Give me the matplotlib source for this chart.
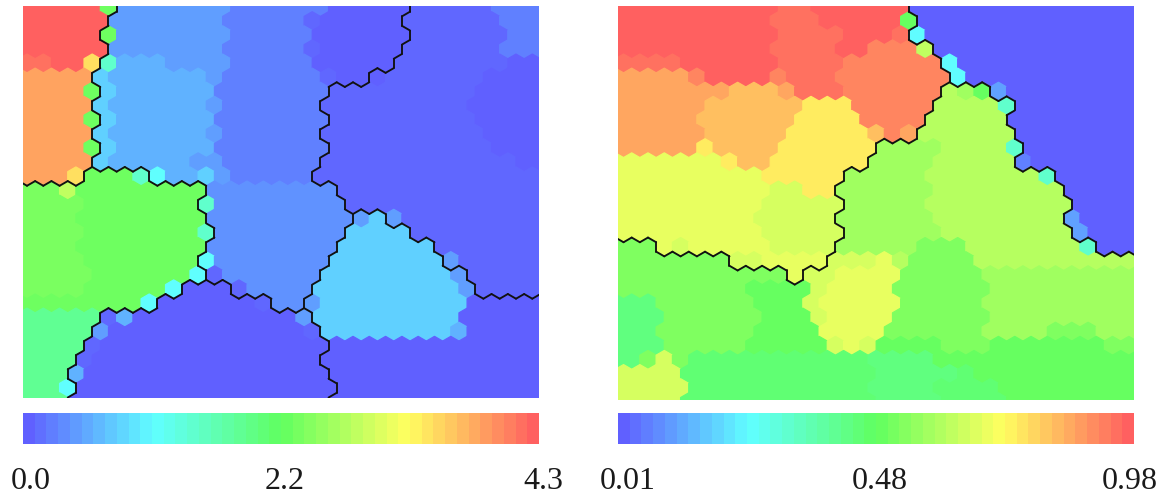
#hex maps with cluster borders and colour bars
import numpy as np
import matplotlib
matplotlib.use("Agg")
import matplotlib.pyplot as plt
from matplotlib.collections import PolyCollection, LineCollection
from matplotlib.colors import LinearSegmentedColormap, Normalize
from matplotlib.cm import ScalarMappable

W, H = 1161, 498
PITCH = 16.3 #hex width in pixels

#each row: letter + last column index it runs to, a lone letter runs to the end of the row
left_cells = [
    "p4 j5 d12 c18 a23 b28 c",
    "p5 d12 c17 b18 a23 b29 c",
    "p4 j5 d12 c17 a23 b29 c",
    "p5 d12 c17 b18 a23 b29 c",
    "o1 p3 m4 h5 e8 d12 c17 a22 b29 a",
    "n4 f5 e11 d12 c18 b19 a22 b28 a",
    "n3 j4 f5 e11 c18 b27 a",
    "n4 f5 e11 d12 c18 b27 a",
    "n3 j4 f5 e11 c18 b27 a",
    "n4 f5 e11 d12 c18 b28 a",
    "n3 j4 f5 e11 c18 b28 a",
    "n4 f5 e10 d12 c18 b30 a",
    "n2 m3 j6 h7 g8 e10 f11 d12 c17 b",
    "k2 l3 j11 q19 b",
    "k3 j10 h11 q19 b",
    "k3 j11 q20 d21 f22 d23 b",
    "k3 j10 h11 q19 f23 b",
    "k3 j11 q19 f25 b",
    "k3 j10 g11 q18 f25 d26 b",
    "k4 j10 g11 b12 q18 f26 d27 b",
    "k3 j8 g9 a12 b13 q17 f26 d27 b",
    "j7 g8 a14 b15 q17 d18 f27 a",
    "i4 b5 e6 a16 d17 f26 a",
    "i4 d5 a17 b18 f26 e27 a",
    "i3 b4 a",
    "i3 b4 a",
    "i2 e3 a",
    "i2 g3 a",
    "i2 a",
]
left_clusters = [
    "A5 C23 E", "A5 C23 E", "A4 C23 E", "A5 C23 E", "A4 C22 E", "A4 C21 E",
    "A4 C18 E", "A4 C18 E", "A4 C18 E", "A4 C18 E", "A4 C18 E", "A4 C18 E",
    "A3 B7 C17 E", "B11 C19 E", "B10 C19 E", "B11 C20 F22 E", "B11 C19 F23 E",
    "B11 C19 F25 E", "B10 C18 F25 E", "B11 C18 F27 E", "B9 D12 C17 F27 E",
    "B8 D15 C17 F", "B4 D17 F", "B4 D18 F", "B3 D18 F", "B3 D18 F", "B2 D18 F",
    "B3 D19 F", "B2 D18 F",
]
left_levels = {"a": 0.0, "b": 0.06, "c": 0.22, "q": 0.34, "d": 0.43, "e": 0.56,
               "f": 0.77, "g": 1.08, "h": 1.42, "i": 1.81, "j": 2.24, "k": 2.33,
               "l": 2.8, "m": 3.44, "n": 3.83, "o": 4.17, "p": 4.3}
left_ticks = ["0.0", "2.2", "4.3"]

right_cells = [
    "p9 o11 p17 a",
    "p9 o12 p17 j18 a",
    "p9 o13 p16 o17 g18 a",
    "p9 o13 p15 r18 l19 a",
    "o3 p9 o13 r19 g20 a",
    "n4 r5 p9 r10 o13 r20 g21 a",
    "n6 s9 n10 o13 r19 x20 y21 j22 d23 a",
    "n5 s11 u14 r19 x23 h24 a",
    "n4 s10 u14 r18 x23 a",
    "n5 s10 u15 s16 r17 n18 x24 a",
    "n4 u5 s9 u15 y19 x23 h24 a",
    "v6 u7 s9 u15 y19 x24 c25 a",
    "v8 u13 y18 x25 h26 a",
    "v9 w11 u13 y19 x27 a",
    "v8 w13 y18 x27 a",
    "v8 w13 y19 x27 d28 a",
    "v8 w13 y19 x27 d28 a",
    "k2 v3 w4 v9 w13 y18 k21 x28 h29 a",
    "k6 w8 v12 w15 v16 x17 k21 x",
    "k10 v11 w13 v17 k22 y",
    "k7 j11 w12 v16 k22 y",
    "z2 k8 j11 w12 v17 k22 y",
    "z2 k8 j11 w12 v16 k22 y",
    "z2 k8 j12 v16 k22 y26 k29 y",
    "z2 k7 j12 w13 v14 w15 j19 k22 j29 k",
    "z1 k2 w3 k4 J15 z19 j",
    "w3 J15 z20 J21 j",
    "w4 J15 z19 J23 j",
    "w3 J15 z19 J23 j",
]
right_clusters = [
    "R17 T", "R18 T", "R17 T", "R19 T", "R19 T", "R20 T", "R19 L22 T", "R19 L24 T",
    "R18 L23 T", "R18 L24 T", "R15 L24 T", "R15 L24 T", "R13 L26 T", "R13 L27 T",
    "R13 L27 T", "R13 L27 T", "R13 L27 T", "L2 R13 L29 T", "L6 R12 L", "L10 R11 L",
    "L", "L", "L", "L", "L", "L", "L", "L", "L",
]
right_levels = {"a": 0.01, "c": 0.06, "d": 0.11, "g": 0.25, "h": 0.33, "z": 0.447,
                "J": 0.466, "j": 0.505, "k": 0.544, "y": 0.592, "x": 0.626, "l": 0.64,
                "w": 0.675, "v": 0.70, "u": 0.767, "s": 0.835, "n": 0.873, "r": 0.922,
                "o": 0.951, "p": 0.98}
right_ticks = ["0.01", "0.48", "0.98"]

cmap = LinearSegmentedColormap.from_list(
    "soft_jet", ["#6060ff", "#60ffff", "#60ff60", "#ffff60", "#ff6060"], N=256)


def expand(row, n=33):
    #turn "p4 j5 d" into one letter per column
    out = []
    for tok in row.split():
        end = int(tok[1:]) if len(tok) > 1 else n - 1
        out += [tok[0]] * (end + 1 - len(out))
    return out


def pixel_axes(x0, y0, x1, y1):
    ax = fig.add_axes([x0 / W, 1 - y1 / H, (x1 - x0) / W, (y1 - y0) / H])
    ax.set_axis_off()
    return ax


def hex_map(box, cells, clusters, levels, vmin, vmax, shift, top):
    ax = pixel_axes(*box)
    ax.set_xlim(0, (box[2] - box[0]) / PITCH)
    ax.set_ylim((box[3] - box[1]) / PITCH, 0)
    R = 1 / np.sqrt(3)
    ang = np.deg2rad(np.arange(30, 390, 60))
    corners = np.c_[R * np.cos(ang), R * np.sin(ang)]

    grid = [expand(r) for r in cells]
    groups = [expand(r) for r in clusters]

    def centre(r, i):
        return i + (shift if r % 2 == 0 else shift - 0.5), top + r * 1.5 * R

    polys, vals, edges = [], [], []
    for r, row in enumerate(grid):
        for i, code in enumerate(row):
            u, v = centre(r, i)
            polys.append(corners + [u, v])
            vals.append(levels[code])
            g = groups[r][i]
            #east neighbour
            if i + 1 < len(row) and groups[r][i + 1] != g:
                edges.append([(u + 0.5, v - R / 2), (u + 0.5, v + R / 2)])
            if r + 1 < len(grid):
                se = i + 1 if r % 2 == 0 else i
                sw = i if r % 2 == 0 else i - 1
                if se < len(row) and groups[r + 1][se] != g:
                    edges.append([(u + 0.5, v + R / 2), (u, v + R)])
                if sw >= 0 and groups[r + 1][sw] != g:
                    edges.append([(u, v + R), (u - 0.5, v + R / 2)])

    norm = Normalize(vmin, vmax)
    #thick face coloured edges, thin ones leave seams between the hexes
    pc = PolyCollection(polys, array=np.array(vals), cmap=cmap, norm=norm,
                        edgecolors="face", linewidths=0.9)
    ax.add_collection(pc)
    ax.add_collection(LineCollection(edges, colors="#111111", linewidths=1.35,
                                     capstyle="round", zorder=3))


def colour_bar(box, vmin, vmax):
    cax = fig.add_axes([box[0] / W, 1 - box[3] / H, (box[2] - box[0]) / W, (box[3] - box[1]) / H])
    sm = ScalarMappable(norm=Normalize(vmin, vmax), cmap=cmap.resampled(44))
    cb = fig.colorbar(sm, cax=cax, orientation="horizontal")
    cb.outline.set_visible(False)
    cb.set_ticks([])


def tick_text(labels, xs):
    for lab, x in zip(labels, xs):
        fig.text(x / W, 1 - 489 / H, lab, ha="center", va="baseline", fontsize=23,
                 family="Liberation Serif", color="#1a1a1a")


fig = plt.figure(figsize=(W / 100, H / 100), dpi=100)

hex_map((23, 6, 539, 398), left_cells, left_clusters, left_levels, 0.0, 4.3, 0.245, 0.06)
hex_map((618, 6, 1134, 400), right_cells, right_clusters, right_levels, 0.01, 0.98, 0.34, 0.06)

colour_bar((23, 413, 539, 444), 0.0, 4.3)
colour_bar((618, 413, 1134, 444), 0.01, 0.98)

tick_text(left_ticks, [31, 285, 543])
tick_text(right_ticks, [628, 880, 1130])

fig.savefig("out.png", dpi=100)
